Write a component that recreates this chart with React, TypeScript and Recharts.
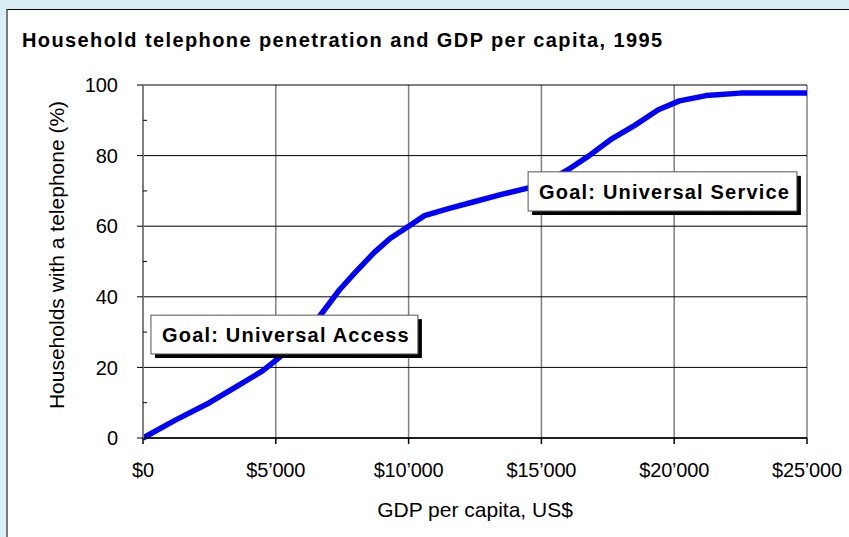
import { LineChart, Line, XAxis, YAxis, CartesianGrid, ReferenceArea } from 'recharts';

// GDP per capita (US$) and share of households with a telephone (%), 1995
const gdp = [0, 1200, 2500, 3500, 4500, 5000, 5800, 6600, 7400, 8000, 8700, 9300, 10000, 10600, 11500, 12500, 13500, 14600, 15300, 16000, 16800, 17600, 18500, 19400, 20200, 21200, 22500, 25000];
const phones = [0, 5, 10, 14.5, 19, 22, 27, 34, 42, 47, 52.5, 56.5, 60, 63, 65, 67, 69, 71, 73, 76, 80, 84.5, 88.5, 93, 95.5, 97, 97.7, 97.7];

const xTicks = [0, 5000, 10000, 15000, 20000, 25000];
const yMajorTicks = [0, 20, 40, 60, 80, 100];
const yAllTicks = [0, 10, 20, 30, 40, 50, 60, 70, 80, 90, 100];

// goal annotations, corners in data units
const goals = [
  { text: 'Goal: Universal Access', x1: 300, x2: 10350, y1: 23.8, y2: 34.8 },
  { text: 'Goal: Universal Service', x1: 14500, x2: 24620, y1: 64.3, y2: 75.4 },
];

const data = gdp.map((g, i) => ({ gdp: g, pct: phones[i] }));

const FONT = '"Liberation Sans", Arial, sans-serif';
const W = 849;
const H = 537;
const MARGIN = { top: 85, right: 42, bottom: 69, left: 83 };

const fmtUsd = (v: number) => (v === 0 ? '$0' : `$${v / 1000}\u2019000`);

// major ticks point out with a label, minor ticks point into the plot
const YTick = (props: any) => {
  const { x, y, payload } = props;
  const major = payload.value % 20 === 0;
  if (!major) return <line x1={x} x2={x + 4} y1={y} y2={y} stroke="#000" strokeWidth={1} />;
  return (
    <g>
      <line x1={x - 6} x2={x} y1={y} y2={y} stroke="#000" strokeWidth={1} />
      <text x={x - 25} y={y} dy="0.36em" textAnchor="end" fontFamily={FONT} fontSize={20} fill="#000">
        {payload.value}
      </text>
    </g>
  );
};

const GoalBox = (props: any) => {
  const { x, y, width, height, text } = props;
  return (
    <g>
      <rect x={x + 4} y={y + 4} width={width} height={height} fill="#000" />
      <rect x={x} y={y} width={width} height={height} fill="#fff" stroke="#555" strokeWidth={1} />
      <text
        x={x + 11}
        y={y + height / 2}
        dy="0.36em"
        fontFamily={FONT}
        fontWeight={700}
        fontSize={20}
        letterSpacing={1.2}
        fill="#000"
      >
        {text}
      </text>
    </g>
  );
};

// shared scale setup so the annotation layer lines up with the plot
const axes = (hidden: boolean) => [
  <XAxis
    key="x"
    dataKey="gdp"
    type="number"
    domain={[0, 25000]}
    ticks={xTicks}
    tickFormatter={fmtUsd}
    axisLine={hidden ? false : { stroke: '#000', strokeWidth: 1.5 }}
    tickLine={hidden ? false : { stroke: '#000', strokeWidth: 1.5 }}
    tickSize={6}
    tickMargin={19}
    height={30}
    tick={hidden ? false : { fill: '#000', fontSize: 20, fontFamily: FONT, letterSpacing: -0.2 }}
    interval={0}
  />,
  <YAxis
    key="y"
    yAxisId="main"
    type="number"
    domain={[0, 100]}
    ticks={yAllTicks}
    axisLine={hidden ? false : { stroke: '#808080', strokeWidth: 2 }}
    tickLine={false}
    tickSize={0}
    tickMargin={0}
    width={60}
    tick={hidden ? false : <YTick />}
    interval={0}
  />,
];

export default function App() {
  return (
    <div style={{ position: 'absolute', left: 0, top: 0, width: W, height: H, background: '#daeef6', overflow: 'hidden' }}>
      <div style={{
        position: 'absolute', left: 6, top: 9, width: 900, height: 600,
        background: '#fff', borderLeft: '2px solid #7a7a7a', borderTop: '1px solid #000',
      }} />

      <div style={{
        position: 'absolute', left: 22, top: 29, fontFamily: FONT, fontWeight: 700,
        fontSize: 20, letterSpacing: 1.4, color: '#000', whiteSpace: 'nowrap',
      }}>
        Household telephone penetration and GDP per capita, 1995
      </div>

      <div style={{
        position: 'absolute', left: 57, top: 255, transform: 'translate(-50%, -50%) rotate(-90deg)',
        fontFamily: FONT, fontSize: 21, color: '#000', whiteSpace: 'nowrap',
      }}>
        Households with a telephone (%)
      </div>

      <div style={{
        position: 'absolute', left: 475, top: 510, transform: 'translate(-50%, -50%)',
        fontFamily: FONT, fontSize: 21, color: '#000', whiteSpace: 'nowrap',
      }}>
        GDP per capita, US$
      </div>

      <div style={{ position: 'absolute', left: 0, top: 0 }}>
        <LineChart width={W} height={H} data={data} margin={MARGIN}>
          <CartesianGrid yAxisId="main" horizontal={false} stroke="#808080" strokeWidth={1.5} verticalValues={xTicks} />
          <CartesianGrid yAxisId="main" vertical={false} stroke="#000" strokeWidth={1} horizontalValues={yMajorTicks} />
          {axes(false)}
          <Line
            yAxisId="main"
            type="linear"
            dataKey="pct"
            stroke="#0000ff"
            strokeWidth={5.5}
            strokeLinejoin="round"
            dot={false}
            isAnimationActive={false}
          />
        </LineChart>
      </div>

      {/* annotation layer on top of the curve */}
      <div style={{ position: 'absolute', left: 0, top: 0, pointerEvents: 'none' }}>
        <LineChart width={W} height={H} data={data} margin={MARGIN}>
          {axes(true)}
          <Line yAxisId="main" dataKey="pct" stroke="none" dot={false} isAnimationActive={false} />
          {goals.map((g) => (
            <ReferenceArea
              key={g.text}
              yAxisId="main"
              x1={g.x1}
              x2={g.x2}
              y1={g.y1}
              y2={g.y2}
              ifOverflow="visible"
              shape={(p: any) => <GoalBox {...p} text={g.text} />}
            />
          ))}
        </LineChart>
      </div>
    </div>
  );
}
